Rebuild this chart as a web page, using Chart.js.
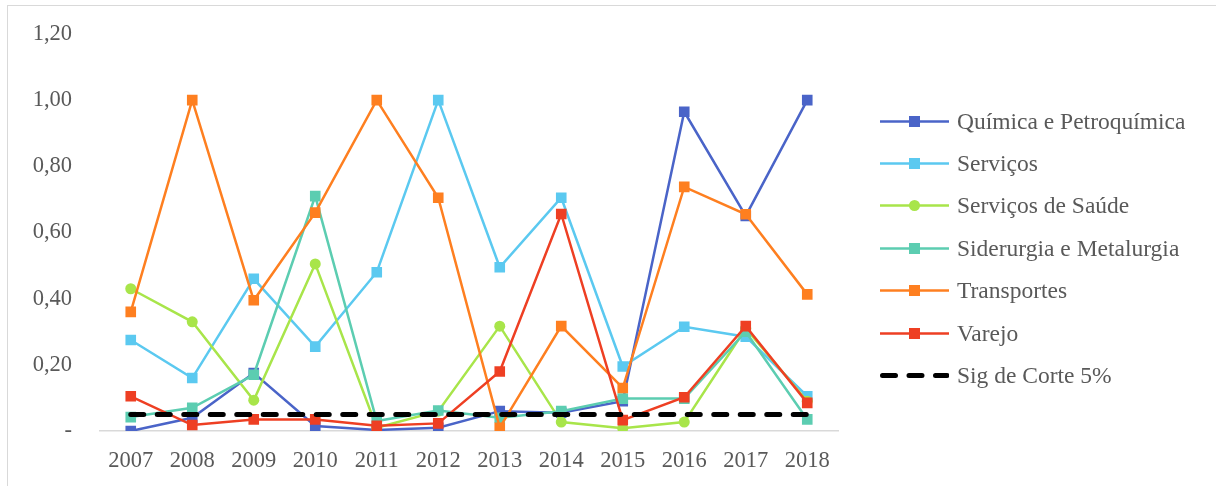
<!DOCTYPE html>
<html>
<head>
<meta charset="utf-8">
<script src="https://cdn.jsdelivr.net/npm/chart.js@4"></script>
<style>
  body { margin: 0; background: #fff; }
  #wrap { position: relative; width: 1216px; height: 486px; overflow: hidden; }
  #frame { position: absolute; left: 7px; top: 5px; width: 1300px; height: 600px; border: 1px solid #d9d9d9; }
  #legend { position: absolute; left: 880px; top: 100px; font-family: "Liberation Serif", serif; font-size: 23.5px; color: #595959; }
  .item { height: 42.4px; display: flex; align-items: center; }
  .item svg { margin-right: 8px; }
</style>
</head>
<body>
<div id="wrap">
  <div id="frame"></div>
  <canvas id="myChart" width="1216" height="486"></canvas>
  <div id="legend"></div>
</div>
<script>
// LES DONNEES : ---------------------------------------------------

const years = ['2007', '2008', '2009', '2010', '2011', '2012', '2013', '2014', '2015', '2016', '2017', '2018'];
const quimica = [0.00, 0.04, 0.175, 0.015, 0.003, 0.01, 0.06, 0.055, 0.09, 0.965, 0.65, 1.00];
const servicos = [0.275, 0.16, 0.46, 0.255, 0.48, 1.00, 0.495, 0.705, 0.195, 0.315, 0.285, 0.105];
const saude = [0.43, 0.33, 0.093, 0.505, 0.01, 0.06, 0.317, 0.027, 0.008, 0.027, 0.31, 0.09];
const siderurgia = [0.042, 0.07, 0.17, 0.71, 0.03, 0.062, 0.04, 0.06, 0.098, 0.098, 0.30, 0.035];
const transportes = [0.36, 1.00, 0.395, 0.66, 1.00, 0.705, 0.01, 0.317, 0.13, 0.738, 0.655, 0.413];
const varejo = [0.105, 0.018, 0.035, 0.035, 0.016, 0.023, 0.18, 0.656, 0.033, 0.102, 0.317, 0.085];
const corte = [0.05, 0.05, 0.05, 0.05, 0.05, 0.05, 0.05, 0.05, 0.05, 0.05, 0.05, 0.05];
const yTicks = [0, 0.2, 0.4, 0.6, 0.8, 1.0, 1.2];

// LES SERIES : ---------------------------------------------------

function serie(label, data, color, style, order) {
    return {
        label: label,
        data: data,
        borderColor: color,
        backgroundColor: color,
        borderWidth: 2.5,
        pointStyle: style,
        pointRadius: style === 'rect' ? 7.5 : 5.5,
        pointHoverRadius: style === 'rect' ? 7.5 : 5.5,
        pointBorderWidth: 0,
        tension: 0,
        order: order
    };
}

const datasets = [
    serie('Química e Petroquímica', quimica, '#4a64c8', 'rect', 6),
    serie('Serviços', servicos, '#5bc9f0', 'rect', 5),
    serie('Serviços de Saúde', saude, '#a8e54a', 'circle', 4),
    serie('Siderurgia e Metalurgia', siderurgia, '#5ccdb1', 'rect', 3),
    serie('Transportes', transportes, '#fe7f20', 'rect', 2),
    serie('Varejo', varejo, '#ee3f23', 'rect', 1),
    {
        label: 'Sig de Corte 5%',
        data: corte,
        borderColor: '#000',
        borderWidth: 5,
        borderDash: [13, 13.5],
        borderCapStyle: 'round',
        pointRadius: 0,
        pointHoverRadius: 0,
        order: 0
    }
];

const ctx = document.getElementById('myChart');
const font = { family: 'Liberation Serif', size: 22.5 };

new Chart(ctx, {
    type: 'line',
    data: { labels: years, datasets: datasets },
    options: {
        responsive: false,
        animation: false,
        layout: { padding: { left: 0, top: 34, right: 378, bottom: 0 } },
        plugins: { legend: { display: false }, tooltip: { enabled: false } },
        scales: {
            x: {
                offset: true,
                grid: { display: false, drawTicks: false },
                border: { color: '#d9d9d9', width: 1.5 },
                ticks: { color: '#595959', font: font, padding: 17, maxRotation: 0 },
                afterFit: (scale) => { scale.height = 486 - 431; scale.paddingLeft = 0; scale.paddingRight = 0; }
            },
            y: {
                min: 0,
                max: 1.2,
                afterBuildTicks: (scale) => { scale.ticks = yTicks.map(v => ({ value: v })); },
                grid: { display: false, drawTicks: false },
                border: { display: false },
                ticks: {
                    color: '#595959',
                    font: font,
                    padding: 28,
                    callback: (v) => v === 0 ? '-' : v.toFixed(2).replace('.', ',')
                },
                afterFit: (scale) => { scale.width = 100; scale.paddingTop = 0; scale.paddingBottom = 0; }
            }
        }
    }
});

// LA LEGENDE : ---------------------------------------------------

const legend = document.getElementById('legend');
datasets.forEach(ds => {
    let mark = '';
    if (ds.pointStyle === 'rect') {
        mark = `<rect x="29" y="5" width="11" height="11" fill="${ds.borderColor}"/>`;
    } else if (ds.pointStyle === 'circle') {
        mark = `<circle cx="34.5" cy="10.5" r="5.5" fill="${ds.borderColor}"/>`;
    }
    let line = ds.borderDash
        ? `<line x1="2.5" y1="10.5" x2="67" y2="10.5" stroke="#000" stroke-width="5" stroke-linecap="round" stroke-dasharray="13 13.5"/>`
        : `<line x1="0" y1="10.5" x2="69" y2="10.5" stroke="${ds.borderColor}" stroke-width="2.5"/>`;
    const div = document.createElement('div');
    div.className = 'item';
    div.innerHTML = `<svg width="69" height="21">${line}${mark}</svg><span>${ds.label}</span>`;
    legend.appendChild(div);
});
</script>
</body>
</html>
